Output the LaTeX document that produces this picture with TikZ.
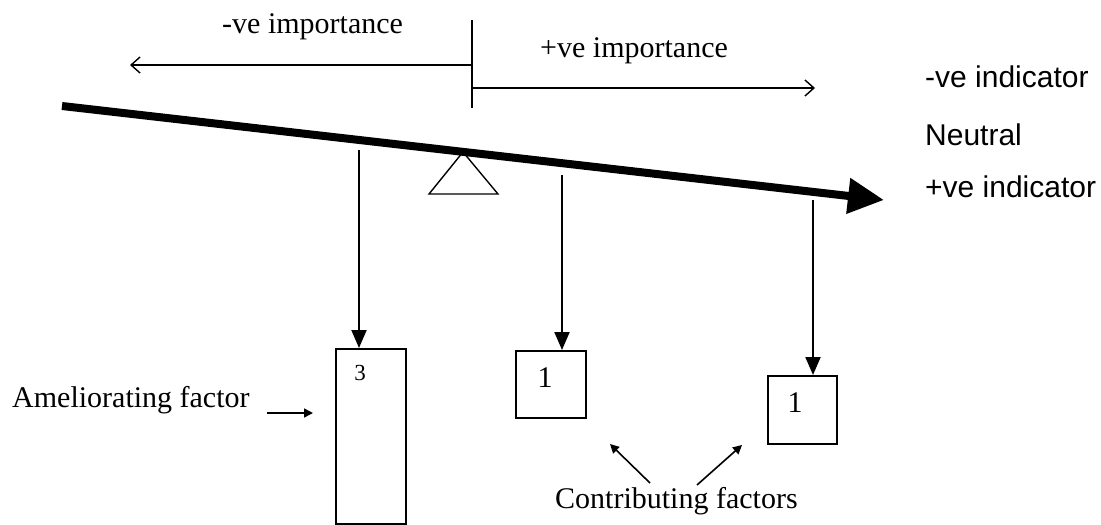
\documentclass[tikz,border=0pt]{standalone}
\usepackage{fontspec}
\setmainfont{Liberation Serif}
\newfontfamily\sansf{Liberation Sans}
\usetikzlibrary{arrows.meta}
\begin{document}
\begin{tikzpicture}[x=1pt,y=-1pt,
  serlab/.style={inner sep=0pt,anchor=base west,font=\fontsize{30}{34}\selectfont},
  sanslab/.style={inner sep=0pt,anchor=base west,font=\sansf\fontsize{30}{34}\selectfont},
  box/.style={draw,line width=2pt,inner sep=0pt},
  drop/.style={line width=2pt,-{Triangle[length=18pt,width=15pt]}},
  small/.style={line width=1.6pt,-{Triangle[length=9pt,width=9pt]}},
  barb/.style={line width=1.4pt,-{Straight Barb[length=9pt,width=16pt]}}]
\useasboundingbox (0,0) rectangle (1101,525);
% importance scale
\coordinate (vt) at (472,20);
\coordinate (vb) at (472,108);
\coordinate (lo) at (472,65);
\coordinate (lt) at (130,65);
\coordinate (ro) at (472,88);
\coordinate (rt) at (815,88);
\draw[line width=1.6pt] (vt) -- (vb);
\draw[barb] (lo) -- (lt);
\draw[barb] (ro) -- (rt);
\node[serlab] (neg) at (222,33) {-ve importance};
\node[serlab] (pos) at (540,57) {+ve importance};
% beam
\coordinate (bs) at (62,106);
\coordinate (be) at (884,200);
\draw[line width=8pt,-{Triangle[length=36pt,width=34pt]}] (bs) -- (be);
% fulcrum
\draw[line width=1.4pt] (463,152) -- (429,194) -- (498,194) -- cycle;
% right labels
\node[sanslab] (ni) at (925,87) {-ve indicator};
\node[sanslab] (nu) at (925,145) {Neutral};
\node[sanslab] (pi) at (925,197) {+ve indicator};
% boxes
\node[box,minimum width=70pt,minimum height=175pt,anchor=north west] (b1) at (335,348) {};
\node[box,minimum width=70pt,minimum height=67pt,anchor=north west] (b2) at (515,350) {};
\node[box,minimum width=69pt,minimum height=68pt,anchor=north west] (b3) at (767,375) {};
\node[inner sep=0pt,font=\fontsize{23}{25}\selectfont] (t1) at (360,373) {3};
\node[inner sep=0pt,font=\fontsize{30}{32}\selectfont] (t2) at (545,378) {1};
\node[inner sep=0pt,font=\fontsize{30}{32}\selectfont] (t3) at (795,403) {1};
% drop arrows
\coordinate (s1) at (359,150);
\coordinate (s2) at (562,175);
\coordinate (s3) at (813,200);
\draw[drop] (s1) -- (s1 |- b1.north);
\draw[drop] (s2) -- (s2 |- b2.north);
\draw[drop] (s3) -- (s3 |- b3.north);
% side labels
\node[serlab] (am) at (12,407) {Ameliorating factor};
\coordinate (aa) at (267,413);
\coordinate (ab) at (313,413);
\draw[small] (aa) -- (ab);
\node[serlab] (cf) at (555,508) {Contributing factors};
\coordinate (c1) at (650,483);
\coordinate (c1t) at (610,444);
\coordinate (c2) at (697,485);
\coordinate (c2t) at (742,445);
\draw[small] (c1) -- (c1t);
\draw[small] (c2) -- (c2t);
\end{tikzpicture}
\end{document}
